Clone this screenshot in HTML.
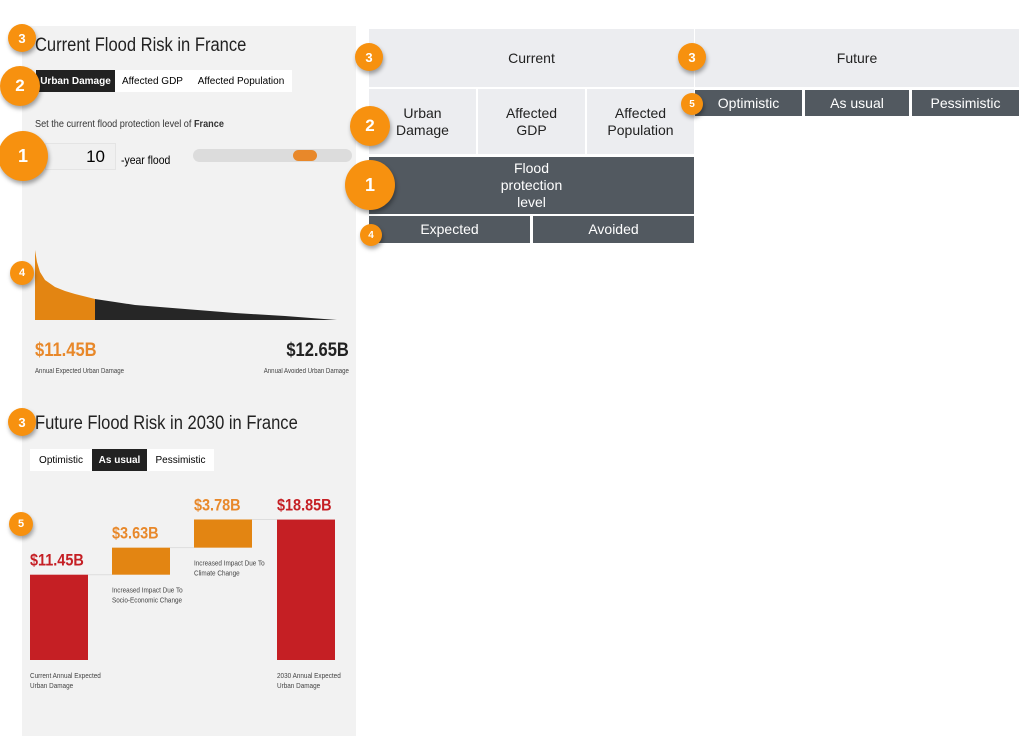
<!DOCTYPE html>
<html><head><meta charset="utf-8">
<style>
body{margin:0;width:1035px;height:746px;background:#fff;position:relative;overflow:hidden;font-family:"Liberation Sans",sans-serif;}
.a{position:absolute;box-sizing:border-box;}
.panel{left:22px;top:26px;width:334px;height:710px;background:#f2f2f2;}
.badge{position:absolute;border-radius:50%;background:#f7910f;color:#fff;font-weight:bold;display:flex;align-items:center;justify-content:center;box-shadow:1px 3px 4px rgba(0,0,0,.35);z-index:5;}
.cell{position:absolute;display:flex;align-items:center;justify-content:center;text-align:center;font-size:14px;line-height:17px;}
.lt{background:#ecedf0;color:#222;}
.dk{background:#525960;color:#fff;}
.tab{position:absolute;font-size:10px;display:flex;align-items:center;justify-content:center;}
.small{position:absolute;font-size:7px;color:#444;line-height:10px;}
.cond{transform:scaleX(0.87);transform-origin:left top;white-space:nowrap;}
.condr{transform:scaleX(0.87);transform-origin:right top;white-space:nowrap;}
</style></head><body>
<div class="a panel"></div>
<div class="a cond" style="left:35px;top:35px;font-size:19px;color:#222;">Current Flood Risk in France</div>
<div class="a" style="left:36px;top:70px;width:256px;height:22px;background:#fff;"></div>
<div class="tab" style="left:36px;top:70px;width:79px;height:22px;background:#222;color:#fff;font-weight:bold;">Urban Damage</div>
<div class="tab" style="left:115px;top:70px;width:75px;height:22px;">Affected GDP</div>
<div class="tab" style="left:190px;top:70px;width:102px;height:22px;">Affected Population</div>
<div class="a cond" style="left:35px;top:118px;font-size:10.5px;color:#333;">Set the current flood protection level of <b>France</b></div>
<div class="a" style="left:45px;top:143px;width:71px;height:27px;background:#f0f0f0;border:1px solid #e4e4e4;font-size:17px;text-align:right;padding:3px 10px 0 0;">10</div>
<div class="a cond" style="left:121px;top:153px;font-size:12px;">-year flood</div>
<div class="a" style="left:193px;top:149px;width:159px;height:13px;border-radius:7px;background:#dcdcdc;"></div>
<div class="a" style="left:293px;top:150px;width:24px;height:11px;border-radius:6px;background:#e8882a;"></div>
<svg class="a" style="left:0;top:0" width="360" height="746" id="area"></svg>
<div class="a cond" style="left:35px;top:340px;font-size:19px;font-weight:bold;color:#e8882a;">$11.45B</div>
<div class="small cond" style="left:35px;top:367px;">Annual Expected Urban Damage</div>
<div class="a condr" style="right:686px;top:340px;font-size:19px;font-weight:bold;color:#222;">$12.65B</div>
<div class="small condr" style="right:686px;top:367px;">Annual Avoided Urban Damage</div>
<div class="a cond" style="left:35px;top:413px;font-size:19px;color:#222;">Future Flood Risk in 2030 in France</div>
<div class="a" style="left:30px;top:449px;width:184px;height:22px;background:#fff;"></div>
<div class="tab" style="left:30px;top:449px;width:62px;height:22px;">Optimistic</div>
<div class="tab" style="left:92px;top:449px;width:55px;height:22px;background:#222;color:#fff;font-weight:bold;">As usual</div>
<div class="tab" style="left:147px;top:449px;width:67px;height:22px;">Pessimistic</div>
<svg class="a" style="left:0;top:0" width="360" height="746" id="wf"></svg>

<div class="cell lt" style="left:369px;top:29px;width:325px;height:58px;">Current</div>
<div class="cell lt" style="left:695px;top:29px;width:324px;height:58px;">Future</div>
<div class="cell lt" style="left:369px;top:89px;width:107px;height:65px;">Urban<br>Damage</div>
<div class="cell lt" style="left:478px;top:89px;width:107px;height:65px;">Affected<br>GDP</div>
<div class="cell lt" style="left:587px;top:89px;width:107px;height:65px;">Affected<br>Population</div>
<div class="cell dk" style="left:369px;top:157px;width:325px;height:57px;">Flood<br>protection<br>level</div>
<div class="cell dk" style="left:369px;top:216px;width:161px;height:27px;">Expected</div>
<div class="cell dk" style="left:533px;top:216px;width:161px;height:27px;">Avoided</div>
<div class="cell dk" style="left:695px;top:90px;width:107px;height:26px;">Optimistic</div>
<div class="cell dk" style="left:805px;top:90px;width:104px;height:26px;">As usual</div>
<div class="cell dk" style="left:912px;top:90px;width:107px;height:26px;">Pessimistic</div>

<div class="badge" style="left:8px;top:24px;width:28px;height:28px;font-size:13px;">3</div>
<div class="badge" style="left:0;top:66px;width:40px;height:40px;font-size:17px;">2</div>
<div class="badge" style="left:-2px;top:131px;width:50px;height:50px;font-size:18px;">1</div>
<div class="badge" style="left:10px;top:261px;width:24px;height:24px;font-size:11px;">4</div>
<div class="badge" style="left:8px;top:408px;width:28px;height:28px;font-size:13px;">3</div>
<div class="badge" style="left:9px;top:512px;width:24px;height:24px;font-size:11px;">5</div>
<div class="badge" style="left:355px;top:43px;width:28px;height:28px;font-size:13px;">3</div>
<div class="badge" style="left:678px;top:43px;width:28px;height:28px;font-size:13px;">3</div>
<div class="badge" style="left:350px;top:106px;width:40px;height:40px;font-size:17px;">2</div>
<div class="badge" style="left:345px;top:160px;width:50px;height:50px;font-size:18px;">1</div>
<div class="badge" style="left:360px;top:224px;width:22px;height:22px;font-size:10px;">4</div>
<div class="badge" style="left:681px;top:93px;width:22px;height:22px;font-size:10px;">5</div>

<script>
const curveX=[0,2,5,10,20,30,40,60,80,100,150,200,250,302];
const curveY=[70,58,48,40,33,29,26,21,18,15,11,7,4,0];
const protectionX=60;
const wfLabels=["Current Annual Expected Urban Damage","Increased Impact Due To Socio-Economic Change","Increased Impact Due To Climate Change","2030 Annual Expected Urban Damage"];
const wfValues=[11.45,3.63,3.78,18.85];
const wfText=["$11.45B","$3.63B","$3.78B","$18.85B"];
const NS="http://www.w3.org/2000/svg";
function mk(svg,t,a){const e=document.createElementNS(NS,t);for(const k in a)e.setAttribute(k,a[k]);svg.appendChild(e);return e;}
const area=document.getElementById('area');
const ax=v=>35+v, ay=v=>320-v;
function pathTo(limit,from){let pts=[];for(let i=0;i<curveX.length;i++){pts.push([curveX[i],curveY[i]]);}
 const interp=x=>{for(let i=1;i<curveX.length;i++){if(x<=curveX[i]){const t=(x-curveX[i-1])/(curveX[i]-curveX[i-1]);return curveY[i-1]+t*(curveY[i]-curveY[i-1]);}}return curveY[curveY.length-1];};
 const sel=pts.filter(p=>p[0]>from&&p[0]<limit);sel.unshift([from,interp(from)]);sel.push([limit,interp(limit)]);
 let d='M'+ax(from)+','+ay(0);sel.forEach(p=>d+=' L'+ax(p[0])+','+ay(p[1]));d+=' L'+ax(limit)+','+ay(0)+'Z';return d;}
let p1=mk(area,'path',{d:pathTo(protectionX,0),fill:'#e38512'});


let p2=mk(area,'path',{d:pathTo(curveX[curveX.length-1],protectionX),fill:'#262626'});


const wf=document.getElementById('wf');
const base=660,sc=7.45,bx=[30,112,194,277],bw=58;
const yv=v=>base-v*sc;
let cum=0;
for(let i=0;i<wfValues.length;i++){
 let top,bot,col,tc;
 if(i==0||i==wfValues.length-1){bot=0;top=wfValues[i];col='#c51f24';tc='#c51f24';cum=wfValues[i];}
 else{bot=cum;top=cum+wfValues[i];cum=top;col='#e38512';tc='#e8882a';}
 const r=mk(wf,'rect',{x:bx[i],y:yv(top),width:bw,height:yv(bot)-yv(top),fill:col});
 
 
 if(i<wfValues.length-1){mk(wf,'line',{x1:bx[i]+bw,x2:bx[i+1],y1:yv(top),y2:yv(top),stroke:'#ddd','stroke-width':1});}
 const t=mk(wf,'text',{x:bx[i],y:yv(top)-9,fill:tc,'font-size':17,'font-weight':'bold','font-family':'Liberation Sans, sans-serif',transform:'translate('+bx[i]+',0) scale(0.85,1) translate('+(-bx[i])+',0)'});t.textContent=wfText[i];
 
 
 const words=wfLabels[i].split(' ');const mid=(i==0||i==3)?3:4;
 const lines=[words.slice(0,mid).join(' '),words.slice(mid).join(' ')];
 const ly=(i==0||i==3)?base+18:yv(bot)+18;
 lines.forEach((s,k)=>{const tt=mk(wf,'text',{x:bx[i],y:ly+k*10,fill:'#444','font-size':7.5,'font-family':'Liberation Sans, sans-serif',transform:'translate('+bx[i]+',0) scale(0.85,1) translate('+(-bx[i])+',0)'});tt.textContent=s;
  
  });
}
</script>
</body></html>
